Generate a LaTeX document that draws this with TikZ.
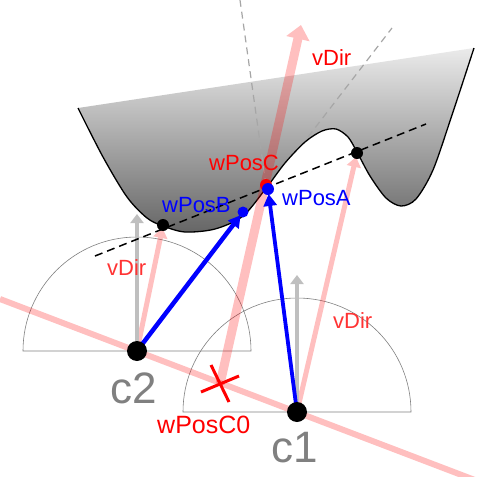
\documentclass[tikz,border=0pt]{standalone}
\usepackage{fontspec}
\setmainfont{Liberation Sans}
\usetikzlibrary{arrows.meta}

\begin{document}
\begin{tikzpicture}
  [x=1pt, y=-1pt,
   every node/.style={inner sep=0pt, font=\fontsize{22}{26}\selectfont},
   label text/.style={anchor=base west},
   half/.style={draw=black!50, line width=0.6pt},
   ray/.style={draw=red, fill=red},
   up/.style={draw=black!25, line width=4pt, -{Triangle[width=13pt,length=9pt]}},
   hitdot/.style={fill=black, circle, minimum size=12pt},
   bigdot/.style={fill=black, circle, minimum size=20pt},
   posdot/.style={circle, minimum size=12pt},
   normal/.style={draw=black!35, line width=1.2pt, dash pattern=on 7pt off 5pt},
   reach/.style={draw=blue, line width=4.5pt, -{Triangle[width=13pt,length=12pt]}},
   camlabel/.style={label text, text=gray, font=\fontsize{44}{48}\selectfont}]
  \useasboundingbox (0,0) rectangle (480,477);

  % points
  \coordinate (c2) at (137,351);
  \coordinate (c1) at (297,412);
  \coordinate (wPosC0) at (220,384);
  \coordinate (wPosC) at (266,185);
  \coordinate (wPosA) at (268,189);
  \coordinate (wPosB) at (243,212);
  \coordinate (hitL) at (163,225);
  \coordinate (hitR) at (357,153);
  \coordinate (rayS) at (0,299);
  \coordinate (rayE) at (480,482);
  \coordinate (topC) at (301,25);
  \coordinate (tanS) at (95,256);
  \coordinate (tanE) at (426,124);

  % search ranges
  \draw[half] (c2) +(-114,0) arc[start angle=180, end angle=0, radius=114pt] -- cycle;
  \draw[half] (c1) +(-114,0) arc[start angle=180, end angle=0, radius=114pt] -- cycle;

  % surface
  \def\surf{(78,108) (103,157) (127,197) (147,218) (163,226) (185,232) (215,229)
    (243,216) (267,187) (285,163) (305,142) (322,131) (336,129) (348,137) (357,152)
    (370,176) (386,198) (401,206) (416,199) (433,170) (452,115) (474,48)}
  \shade[top color=black!8, bottom color=black!60]
    plot[smooth, tension=0.5] coordinates {\surf} -- cycle;
  \draw[line width=1.3pt] plot[smooth, tension=0.5] coordinates {\surf};

  % normals
  \draw[normal] (wPosC) -- (240,0);
  \draw[normal] (308,137) -- (392,28);

  % rays
  \begin{scope}[transparency group, opacity=0.25]
    \draw[ray, line width=6pt] (rayS) -- (rayE);
  \end{scope}
  \begin{scope}[transparency group, opacity=0.25]
    \draw[ray, line width=9pt, -{Triangle[width=23pt,length=14pt]}] (wPosC0) -- (topC);
  \end{scope}
  \begin{scope}[transparency group, opacity=0.25]
    \draw[ray, line width=5pt, -{Triangle[width=14pt,length=10pt]}, shorten >=3pt] (c2) -- (hitL);
  \end{scope}
  \begin{scope}[transparency group, opacity=0.25]
    \draw[ray, line width=5pt, -{Triangle[width=14pt,length=10pt]}, shorten >=4pt] (c1) -- (hitR);
  \end{scope}

  % up vectors
  \draw[up] (c2) -- ++(0,-137);
  \draw[up] (c1) -- ++(0,-137);

  % tangent
  \draw[line width=1.5pt, dash pattern=on 8pt off 5pt] (tanS) -- (tanE);

  % start point of the ray
  \draw[red, line width=3pt] ([shift={(-19,8)}]wPosC0) -- ([shift={(19,-8)}]wPosC0);
  \draw[red, line width=3pt] ([shift={(-9,-19)}]wPosC0) -- ([shift={(9,18)}]wPosC0);

  % moves
  \draw[reach, shorten >=4pt] (c2) -- (wPosB);
  \draw[reach, line width=3.8pt, shorten >=5pt] (c1) -- (wPosA);

  % dots
  \node[hitdot] (dotL) at (hitL) {};
  \node[hitdot] (dotR) at (hitR) {};
  \node[posdot, fill=red] (dotC) at (wPosC) {};
  \node[posdot, fill=blue] (dotA) at (wPosA) {};
  \node[posdot, fill=blue, minimum size=11pt] (dotB) at (wPosB) {};
  \node[bigdot] (dotC2) at (c2) {};
  \node[bigdot] (dotC1) at (c1) {};

  % labels
  \node[label text, text=red] (lblTop) at (312,65) {vDir};
  \node[label text, text=red!80] (lblLeft) at (107,275) {vDir};
  \node[label text, text=red!80] (lblRight) at (333,328) {vDir};
  \node[label text, text=red] (lblC) at (209,170) {wPosC};
  \node[label text, text=blue] (lblA) at (282,205) {wPosA};
  \node[label text, text=blue] (lblB) at (162,212) {wPosB};
  \node[label text, text=red, font=\fontsize{25}{29}\selectfont] (lblC0) at (157,433) {wPosC0};
  \node[camlabel] (lblc2) at (110,403) {c2};
  \node[camlabel] (lblc1) at (271,462) {c1};
\end{tikzpicture}
\end{document}
